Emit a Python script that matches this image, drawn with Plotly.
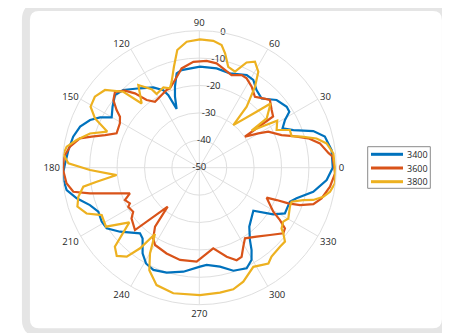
import plotly.graph_objects as go

# angle in degrees, response in dB
theta_3400 = [0, 7.6, 13.9, 17.8, 21.8, 25.3, 29.1, 31.9, 34.9, 41.2,
              48.0, 53.6, 58.4, 62.9, 72.0, 80.1, 89.6, 100.3, 103.5, 106.7,
              108.9, 111.1, 113.1, 114.9, 119.8, 126.8, 134.4, 139.3, 144.9, 150.1,
              153.1, 156.4, 161.0, 166.2, 172.3, 178.2, 182.0, 185.2, 189.6, 194.0,
              198.9, 203.5, 208.9, 213.2, 218.9, 227.9, 231.3, 236.5, 240.9, 245.8,
              252.7, 261.3, 270.4, 274.3, 281.8, 288.3, 295.2, 299.5, 302.4, 305.0,
              310.3, 321.5, 327.8, 331.9, 339.4, 342.5, 348.1, 354.5, 360]
r_3400 = [-1.3, -1.3, -2.8, -6.3, -13.0, -16.4, -14.2, -11.3, -11.1, -12.5,
          -16.0, -14.8, -12.4, -12.0, -13.8, -13.2, -13.1, -13.8, -14.6, -19.1,
          -22.6, -27.0, -21.2, -18.8, -16.2, -13.8, -10.3, -9.4, -11.3, -13.1,
          -9.4, -6.5, -4.0, -2.6, -1.8, -1.0, -0.3, -0.2, -0.9, -3.9,
          -7.8, -9.8, -9.3, -9.6, -12.8, -17.7, -16.9, -12.5, -10.0, -9.1,
          -9.9, -11.6, -13.9, -14.4, -13.1, -10.4, -9.4, -11.3, -14.4, -17.8,
          -21.8, -24.8, -18.1, -14.6, -14.7, -12.8, -7.5, -3.3, -1.3]

theta_3600 = [0, 4.8, 6.4, 11.4, 15.1, 18.6, 21.6, 27.6, 30.2, 34.2,
              34.8, 38.6, 43.8, 47.3, 51.9, 57.1, 62.1, 65.4, 70.8, 75.3,
              80.6, 86.1, 93.2, 100.1, 105.5, 110.3, 112.8, 119.0, 123.9, 127.9,
              130.9, 134.0, 138.0, 141.8, 145.1, 147.3, 150.8, 157.4, 160.9, 163.9,
              166.2, 170.8, 175.4, 181.0, 186.7, 190.8, 193.2, 195.5, 200.3, 203.5,
              207.2, 208.8, 213.7, 216.8, 224.1, 230.9, 233.1, 236.9, 240.2, 249.1,
              258.2, 268.4, 279.8, 287.1, 292.0, 295.4, 299.1, 302.9, 309.7, 316.4,
              322.0, 324.7, 327.0, 329.3, 336.0, 337.3, 338.2, 339.6, 342.3, 345.9,
              351.7, 357.6, 360]
r_3600 = [-0.7, -1.2, -2.5, -5.1, -8.8, -13.8, -17.7, -21.6, -25.1, -29.9,
          -17.2, -16.2, -14.3, -15.6, -17.1, -14.8, -13.1, -12.8, -14.2, -13.1,
          -11.4, -10.9, -11.3, -13.2, -16.8, -19.1, -19.2, -20.4, -21.0, -18.7,
          -14.1, -10.9, -8.6, -10.1, -13.2, -15.6, -16.8, -17.3, -13.6, -9.1,
          -5.1, -2.2, -0.4, -0.3, -1.2, -3.2, -9.0, -14.9, -23.0, -20.4,
          -21.5, -20.4, -21.0, -19.1, -17.3, -31.7, -23.1, -19.2, -17.5, -16.5,
          -15.6, -15.7, -20.1, -16.0, -13.6, -14.0, -17.0, -19.3, -17.3, -14.4,
          -11.1, -11.7, -14.9, -18.6, -23.1, -19.4, -15.0, -10.8, -6.3, -4.0,
          -1.8, -0.4, -0.7]

theta_3800 = [0, 6.1, 10.8, 14.0, 16.9, 18.9, 22.6, 26.0, 31.1, 33.1,
              35.3, 36.2, 42.0, 44.3, 51.4, 52.2, 55.5, 58.4, 62.3, 65.8,
              69.6, 74.0, 77.3, 79.7, 83.7, 89.7, 95.7, 100.6, 104.1, 107.8,
              110.3, 114.1, 120.1, 121.3, 126.4, 131.9, 135.0, 140.5, 145.8, 150.7,
              154.7, 158.6, 162.6, 167.3, 171.0, 174.3, 178.1, 181.2, 185.1, 187.8,
              189.3, 193.5, 197.7, 202.1, 205.9, 212.3, 218.0, 223.1, 226.9, 230.8,
              233.7, 236.2, 240.1, 244.0, 250.0, 258.3, 270.3, 279.4, 285.6, 291.1,
              298.6, 305.8, 309.1, 315.6, 319.2, 322.0, 323.6, 327.3, 330.3, 336.7,
              339.8, 342.7, 344.2, 346.8, 349.6, 353.4, 360]
r_3800 = [-0.5, -0.8, -2.7, -5.9, -11.0, -14.4, -14.2, -18.6, -16.8, -22.1,
          -26.6, -19.5, -15.0, -20.8, -30.1, -21.8, -14.1, -8.9, -6.3, -7.9,
          -12.6, -11.7, -7.2, -4.5, -3.4, -3.2, -3.8, -6.3, -12.0, -17.0,
          -19.1, -17.9, -18.9, -16.5, -12.5, -18.5, -10.8, -5.4, -3.9, -4.5,
          -7.9, -13.9, -8.2, -4.1, -1.0, -0.1, -2.2, -10.1, -19.7, -12.2,
          -7.1, -4.6, -3.3, -5.6, -10.4, -9.7, -17.6, -7.8, -5.9, -8.1,
          -13.5, -20.9, -13.9, -8.4, -4.4, -3.2, -3.5, -3.8, -3.9, -5.4,
          -8.8, -6.9, -8.2, -8.8, -8.7, -11.1, -12.7, -13.6, -12.6, -14.0,
          -14.1, -10.3, -6.8, -3.5, -1.5, -0.2, -0.5]

angle_ticks = list(range(0, 360, 30))
r_ticks = [-50, -40, -30, -20, -10, 0]

# the page keeps the browser's 8px body margin, so the figure is 8px smaller
OFF = 8
W, H = 450 - OFF, 333 - OFF
FONT = "Open Sans"
TXT = "#262626"
GRID = "#dfdfdf"


def paper(x, y):
    # window pixel -> paper fraction
    return (x - OFF) / W, (H - (y - OFF)) / H


fig = go.Figure()
series = [("3400", theta_3400, r_3400, "#0072BD"),
          ("3600", theta_3600, r_3600, "#D95319"),
          ("3800", theta_3800, r_3800, "#EDB120")]
for name, th, rr, col in series:
    fig.add_trace(go.Scatterpolar(theta=th, r=rr, mode="lines", name=name,
                                  line=dict(color=col, width=2.2),
                                  showlegend=False))

# radial tick labels sit on the 80 degree spoke, like the original
fig.add_trace(go.Scatterpolar(
    theta=[80] * len(r_ticks), r=r_ticks, mode="text",
    text=[str(v) for v in r_ticks], textposition="middle center",
    textfont=dict(family=FONT, size=9.5, color=TXT),
    showlegend=False, hoverinfo="skip", cliponaxis=False))

shapes = []
annotations = []

# rounded grey frame round the whole chart
x0, y0, x1, y1, rad = 25.9, 7.0, 445.9, 332.3, 13
pts = [("M", x0 + rad, y0), ("L", x1 - rad, y0), ("Q", x1, y0, x1, y0 + rad),
       ("L", x1, y1 - rad), ("Q", x1, y1, x1 - rad, y1), ("L", x0 + rad, y1),
       ("Q", x0, y1, x0, y1 - rad), ("L", x0, y0 + rad), ("Q", x0, y0, x0 + rad, y0)]
path = ""
for p in pts:
    cmd, vals = p[0], p[1:]
    coords = []
    for i in range(0, len(vals), 2):
        a, b = paper(vals[i], vals[i + 1])
        coords.append(f"{a:.5f},{b:.5f}")
    path += cmd + " ".join(coords) + " "
path += "Z"
shapes.append(dict(type="path", path=path, xref="paper", yref="paper",
                   line=dict(color="#e5e5e5", width=8)))

# legend box drawn by hand (plotly's rows are too tall for this one)
lx0, ly0 = paper(367.7, 146.7)
lx1, ly1 = paper(430.3, 188.3)
shapes.append(dict(type="rect", xref="paper", yref="paper", x0=lx0, x1=lx1,
                   y0=ly1, y1=ly0, line=dict(color="#8a8a8a", width=1),
                   fillcolor="white"))
for i, (name, th, rr, col) in enumerate(series):
    yy = 154.3 + 13.7 * i
    ax, ay = paper(371, yy)
    bx, _ = paper(403, yy)
    shapes.append(dict(type="line", xref="paper", yref="paper", x0=ax, x1=bx,
                       y0=ay, y1=ay, line=dict(color=col, width=3)))
    tx, _ = paper(404.5, yy)
    annotations.append(dict(x=tx, y=ay, xref="paper", yref="paper", text=name,
                            showarrow=False, xanchor="left", yanchor="middle",
                            font=dict(family=FONT, size=9, color=TXT)))

cx0, cy1 = paper(62.3, 30.7)
cx1, cy0 = paper(336.3, 304.7)

fig.update_layout(
    width=W, height=H,
    margin=dict(l=0, r=0, t=0, b=0),
    paper_bgcolor="white",
    showlegend=False,
    font=dict(family=FONT, size=9.5, color=TXT),
    shapes=shapes,
    annotations=annotations,
    polar=dict(
        domain=dict(x=[cx0, cx1], y=[cy0, cy1]),
        bgcolor="white",
        angularaxis=dict(rotation=0, direction="counterclockwise",
                         tickvals=angle_ticks, ticks="", showline=True,
                         linecolor=GRID, linewidth=1, gridcolor=GRID,
                         tickfont=dict(family=FONT, size=9.5, color=TXT)),
        radialaxis=dict(range=[-50, 0], tickvals=r_ticks, showticklabels=False,
                        ticks="", showline=False, gridcolor=GRID, angle=80),
    ),
)

fig.write_html("out.html")
